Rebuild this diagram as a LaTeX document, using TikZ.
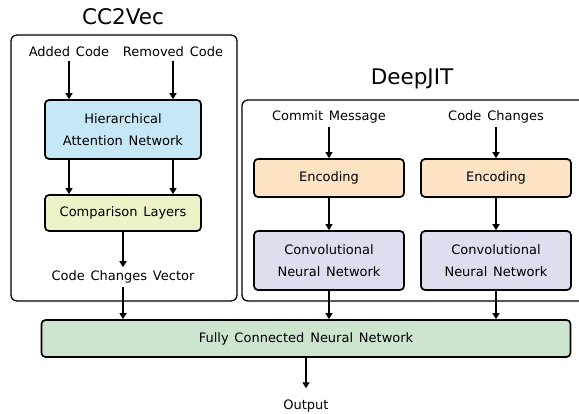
\documentclass[tikz,border=0pt]{standalone}
\usepackage{fontspec}
\setmainfont[WordSpace=1.4]{DejaVu Sans}
\usetikzlibrary{arrows.meta}

\definecolor{hanblue}{HTML}{C6E7F5}
\definecolor{cmpyellow}{HTML}{EEF2C8}
\definecolor{encpeach}{HTML}{FCE3C4}
\definecolor{cnnlilac}{HTML}{DBDFEE}
\definecolor{fcgreen}{HTML}{CDE5CF}

\tikzset{
  box/.style={draw, line width=1.7pt, rounded corners=4pt, align=center,
    font=\fontsize{13}{22.5}\selectfont},
  group/.style={draw, line width=1.3pt, rounded corners=6pt},
  txt/.style={font=\fontsize{13}{16}\selectfont},
  title/.style={font=\fontsize{21.5}{25}\selectfont},
  flow/.style={line width=1.4pt, -{Triangle[length=6pt,width=7pt]}},
}

\begin{document}
\begin{tikzpicture}[x=1pt,y=-1pt]
    \useasboundingbox (0,0) rectangle (579,414);
    % the two model groups
    \draw[group] (11,35) rectangle (237,301);
    \draw[group] (242,100) rectangle (592,301);
    \node[title] (cctitle) at (123,17) {CC2Vec};
    \node[title] (djtitle) at (412,79) {DeepJIT};

    % CC2Vec side
    \node[txt] (added) at (69,52) {Added Code};
    \node[txt] (removed) at (173,52) {Removed Code};
    \node[box, fill=hanblue, minimum width=156pt, minimum height=59pt]
      (han) at (123,129.5) {Hierarchical\\Attention Network};
    \node[box, fill=cmpyellow, minimum width=156pt, minimum height=36pt]
      (cmp) at (123,213) {Comparison Layers};
    \node[txt] (ccv) at (123,277) {Code Changes Vector};

    % DeepJIT side
    \node[txt] (msg) at (329,117) {Commit Message};
    \node[txt] (chg) at (496,117) {Code Changes};
    \node[box, fill=encpeach, minimum width=150pt, minimum height=38pt]
      (enc1) at (329,178) {Encoding};
    \node[box, fill=encpeach, minimum width=150pt, minimum height=38pt]
      (enc2) at (496,178) {Encoding};
    \node[box, fill=cnnlilac, minimum width=150pt, minimum height=59pt]
      (cnn1) at (329,260.5) {Convolutional\\Neural Network};
    \node[box, fill=cnnlilac, minimum width=150pt, minimum height=59pt]
      (cnn2) at (496,260.5) {Convolutional\\Neural Network};

    % shared head
    \node[box, fill=fcgreen, minimum width=529pt, minimum height=37pt]
      (fcnn) at (306,338.5) {Fully Connected Neural Network};
    \node[txt] (out) at (306,406) {Output};

    \draw[flow] (added) -- (added |- han.north);
    \draw[flow] (removed) -- (removed |- han.north);
    \draw[flow] (han.south -| added) -- (cmp.north -| added);
    \draw[flow] (han.south -| removed) -- (cmp.north -| removed);
    \draw[flow] (cmp) -- (ccv);
    \draw[flow] (msg) -- (enc1);
    \draw[flow] (chg) -- (enc2);
    \draw[flow] (enc1) -- (cnn1);
    \draw[flow] (enc2) -- (cnn2);
    \draw[flow] (ccv) -- (ccv |- fcnn.north);
    \draw[flow] (cnn1) -- (cnn1 |- fcnn.north);
    \draw[flow] (cnn2) -- (cnn2 |- fcnn.north);
    \draw[flow, shorten >=8pt] (fcnn) -- (out);
\end{tikzpicture}
\end{document}
